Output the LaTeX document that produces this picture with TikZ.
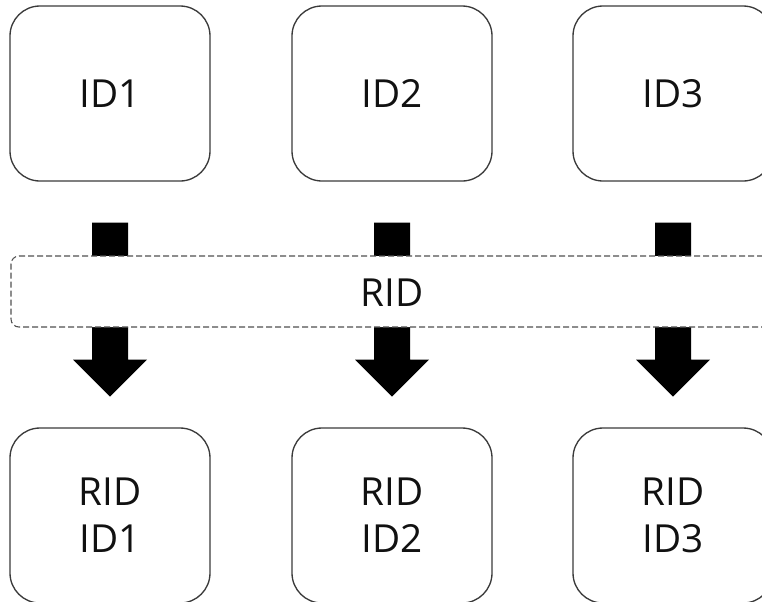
\documentclass[tikz,border=0pt]{standalone}
\usepackage{fontspec}
\setmainfont{Open Sans}
\usetikzlibrary{calc}
\definecolor{boxgray}{HTML}{3A3A3A}
\definecolor{dashgray}{HTML}{505050}
\definecolor{textblack}{HTML}{111111}
\begin{document}
\begin{tikzpicture}[x=0.75pt,y=-0.75pt,
  idbox/.style={draw=boxgray, line width=1pt, rounded corners=22.5pt,
    minimum width=150pt, minimum height=131.25pt, inner sep=0pt,
    align=center, text=textblack, font=\fontsize{29}{35.25}\selectfont},
  band/.style={draw=dashgray, fill=white, line width=0.8pt,
    dash pattern=on 4.5pt off 2.25pt, rounded corners=6pt,
    minimum width=570pt, minimum height=53.25pt, inner sep=0pt,
    text=textblack, font=\fontsize{29}{35.25}\selectfont},
  blockarrow/.style={fill=black}]
  \useasboundingbox (0,0) rectangle (762,601);
  \clip (0,0) rectangle (762,601);

  % source and result boxes
  \node[idbox] (t1) at (110,93.5) {ID1};
  \node[idbox] (t2) at (392,93.5) {ID2};
  \node[idbox] (t3) at (673,93.5) {ID3};
  \node[idbox] (b1) at (110,515.5) {RID\\ID1};
  \node[idbox] (b2) at (392,515.5) {RID\\ID2};
  \node[idbox] (b3) at (673,515.5) {RID\\ID3};

  % thick block arrows from each source box down to its result
  \foreach \i in {1,2,3} {
    \fill[blockarrow] ($(t\i.south)+(-18,41)$) -- ++(36,0) -- ++(0,137)
      -- ++(19,0) -- ++(-37,37) -- ++(-37,-37) -- ++(19,0) -- cycle;
  }

  % dashed band laid across the arrows
  \node[band] (rid) at (391,291.5) {};
  \node[text=textblack, font=\fontsize{29}{35.25}\selectfont, inner sep=0pt]
    (ridlabel) at (392,293) {RID};
\end{tikzpicture}
\end{document}
